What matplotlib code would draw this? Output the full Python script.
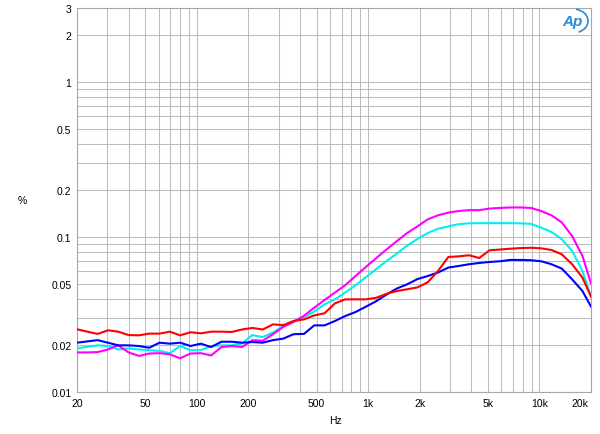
import matplotlib
matplotlib.use("Agg")
import matplotlib.pyplot as plt
from matplotlib.patches import Arc
from matplotlib.transforms import ScaledTranslation

freq = [20, 22.97, 26.39, 30.31, 34.82, 40, 45.95, 52.78, 60.63, 69.64,
        80, 91.9, 105.6, 121.3, 139.3, 160, 183.8, 211.1, 242.5, 278.6,
        320, 367.6, 422.2, 485, 557.1, 640, 735.2, 844.5, 970.1, 1114,
        1280, 1470, 1689, 1940, 2229, 2560, 2941, 3378, 3880, 4457,
        5120, 5881, 6756, 7760, 8914, 10240, 11763, 13512, 15521, 17829, 20000]

red = [0.0254, 0.0245, 0.0237, 0.0250, 0.0245, 0.0233, 0.0232, 0.0238, 0.0238, 0.0245,
       0.0232, 0.0243, 0.0239, 0.0245, 0.0245, 0.0244, 0.0253, 0.0259, 0.0253, 0.0273,
       0.0270, 0.0287, 0.0294, 0.0312, 0.0322, 0.0373, 0.0396, 0.0396, 0.0396, 0.0405,
       0.0430, 0.0448, 0.0460, 0.0473, 0.0510, 0.0604, 0.0743, 0.0750, 0.0762, 0.0732,
       0.0821, 0.0830, 0.0840, 0.0848, 0.0852, 0.0845, 0.0824, 0.0773, 0.0667, 0.0547, 0.0412]

blue = [0.0208, 0.0212, 0.0216, 0.0208, 0.0200, 0.0200, 0.0198, 0.0193, 0.0208, 0.0205,
        0.0208, 0.0198, 0.0205, 0.0195, 0.0211, 0.0211, 0.0208, 0.0210, 0.0208, 0.0216,
        0.0221, 0.0236, 0.0237, 0.0269, 0.0269, 0.0287, 0.0309, 0.0328, 0.0355, 0.0385,
        0.0425, 0.0465, 0.0495, 0.0535, 0.0560, 0.0590, 0.0635, 0.0650, 0.0667, 0.0680,
        0.0690, 0.0697, 0.0711, 0.0711, 0.0708, 0.0697, 0.0667, 0.0625, 0.0533, 0.0448, 0.0356]

cyan = [0.0191, 0.0196, 0.0200, 0.0198, 0.0188, 0.0191, 0.0188, 0.0186, 0.0184, 0.0178,
        0.0198, 0.0186, 0.0186, 0.0198, 0.0200, 0.0200, 0.0206, 0.0233, 0.0226, 0.0242,
        0.0267, 0.0287, 0.0305, 0.0330, 0.0368, 0.0396, 0.0438, 0.0488, 0.0550, 0.0620,
        0.0700, 0.0780, 0.0880, 0.0970, 0.1060, 0.1130, 0.1170, 0.1210, 0.1225, 0.1228,
        0.1228, 0.1228, 0.1228, 0.1225, 0.1215, 0.1150, 0.1077, 0.0966, 0.0813, 0.0604, 0.0412]

magenta = [0.0180, 0.0180, 0.0181, 0.0188, 0.0200, 0.0180, 0.0171, 0.0177, 0.0178, 0.0175,
           0.0165, 0.0177, 0.0178, 0.0172, 0.0195, 0.0198, 0.0195, 0.0216, 0.0214, 0.0236,
           0.0263, 0.0283, 0.0310, 0.0350, 0.0392, 0.0438, 0.0488, 0.0560, 0.0640, 0.0730,
           0.0830, 0.0940, 0.1060, 0.1170, 0.1300, 0.1380, 0.1437, 0.1470, 0.1490, 0.1490,
           0.1525, 0.1540, 0.1550, 0.1550, 0.1540, 0.1470, 0.1380, 0.1240, 0.1014, 0.0754, 0.0503]

xticks = [20, 50, 100, 200, 500, 1000, 2000, 5000, 10000, 20000]
xticklabels = ["20", "50", "100", "200", "500", "1k", "2k", "5k", "10k", "20k"]
yticks = [0.01, 0.02, 0.05, 0.1, 0.2, 0.5, 1, 2, 3]
yticklabels = ["0.01", "0.02", "0.05", "0.1", "0.2", "0.5", "1", "2", "3"]
xgrid = [m * d for d in (10, 100, 1000, 10000) for m in range(1, 10) if 20 <= m * d <= 20000]
ygrid = [m * d for d in (0.01, 0.1) for m in range(1, 10)] + [1, 2, 3]

plt.rcParams['font.family'] = ['Liberation Sans', 'DejaVu Sans']
fig = plt.figure(figsize=(6.0, 4.35), dpi=100)
ax = fig.add_axes([77 / 600, 1 - 393 / 435, (591 - 77) / 600, (393 - 9) / 435])
ax.set_xscale('log')
ax.set_yscale('log')
ax.set_xlim(20, 20000)
ax.set_ylim(0.01, 3)

for gx in xgrid:
    ax.axvline(gx, color='#bcbcbc', lw=0.75, zorder=0)
for gy in ygrid:
    ax.axhline(gy, color='#bcbcbc', lw=0.75, zorder=0)

ax.plot(freq, cyan, color='#00f0f0', lw=1.5, zorder=3)
ax.plot(freq, magenta, color='#ff00ff', lw=1.5, zorder=3)
ax.plot(freq, blue, color='#0000ff', lw=1.5, zorder=4)
ax.plot(freq, red, color='#ff0000', lw=1.5, zorder=5)

ax.set_xticks(xticks)
ax.set_xticklabels(xticklabels)
ax.set_yticks(yticks)
ax.set_yticklabels(yticklabels)
ax.minorticks_off()
ax.tick_params(length=0, labelsize=7.5, pad=4, colors='black')
for s in ax.spines.values():
    s.set_color('#a8a8a8')
    s.set_linewidth(0.8)

last = ax.get_xticklabels()[-1]
last.set_transform(last.get_transform() + ScaledTranslation(-0.11, 0, fig.dpi_scale_trans))

fig.text(22 / 600, 1 - 201 / 435, '%', ha='center', va='center', fontsize=7.5)
fig.text(335 / 600, 1 - 421 / 435, 'Hz', ha='center', va='center', fontsize=7.5)

# AP logo
fig.text(572 / 600, 1 - 22 / 435, 'Ap', ha='center', va='center', fontsize=11,
         style='italic', color='#2a8ad8', fontweight='bold')
arc = Arc((573 / 600, 1 - 22 / 435), 30 / 600, 24 / 435, theta1=-70, theta2=80,
          transform=fig.transFigure, color='#2a8ad8', lw=1.2)
fig.add_artist(arc)

fig.savefig('out.png', dpi=100)
